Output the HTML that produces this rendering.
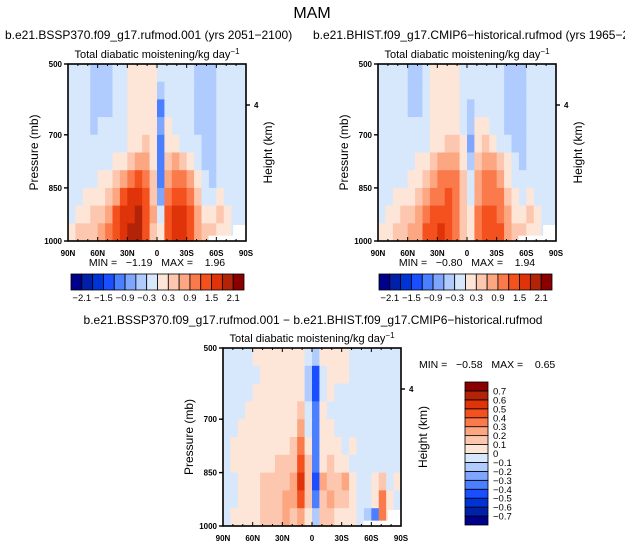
<!DOCTYPE html>
<html><head><meta charset="utf-8">
<style>
body{margin:0;background:#fff;}
svg{display:block;font-family:"Liberation Sans",sans-serif;}
</style></head>
<body>
<svg id="fig" width="625" height="547" viewBox="0 0 625 547" xmlns="http://www.w3.org/2000/svg">
<text x="312" y="18" font-size="16" text-anchor="middle">MAM</text>
<text x="5" y="39" font-size="12">b.e21.BSSP370.f09_g17.rufmod.001 (yrs 2051−2100)</text>
<text x="313" y="39" font-size="12">b.e21.BHIST.f09_g17.CMIP6−historical.rufmod (yrs 1965−2014)</text>
<text x="313" y="324" font-size="12" text-anchor="middle">b.e21.BSSP370.f09_g17.rufmod.001 − b.e21.BHIST.f09_g17.CMIP6−historical.rufmod</text>
</svg>
<script>
// ---- data ----
const latTicks = ["90N","60N","30N","0","30S","60S","90S"];
const presTicks = [500,700,850,1000];
const topLevels = [-2.1,-1.8,-1.5,-1.2,-0.9,-0.6,-0.3,0,0.3,0.6,0.9,1.2,1.5,1.8,2.1];
const topLabels = ["−2.1","−1.5","−0.9","−0.3","0.3","0.9","1.5","2.1"];
const diffLevels = [-0.7,-0.6,-0.5,-0.4,-0.3,-0.2,-0.1,0,0.1,0.2,0.3,0.4,0.5,0.6,0.7];
const diffLabels = ["−0.7","−0.6","−0.5","−0.4","−0.3","−0.2","−0.1","0","0.1","0.2","0.3","0.4","0.5","0.6","0.7"];
const colors = ["#00008a","#0020a8","#0033d6","#1a4fff","#4a7fff","#7fa6ff","#b0ccff","#d7e8fc","#fde6d7","#fcc7ae","#fca781","#fb7a4c","#f4511e","#df3309","#b32307","#8a0000"];
// rows: 500-550 ... 950-1000 mb; cols: 24 bands 90N -> 90S
const fieldA = [
[-0.1,-0.1,-0.1,-0.4,-0.4,-0.4,-0.1,-0.1,0.1,0.1,0.1,0.1,-0.1,-0.1,-0.1,-0.1,-0.1,-0.4,-0.4,-0.4,-0.1,-0.1,-0.1,-0.1],
[-0.1,-0.1,-0.1,-0.4,-0.4,-0.4,-0.1,-0.1,0.1,0.1,0.1,0.1,-0.4,-0.1,-0.1,-0.1,-0.1,-0.4,-0.4,-0.4,-0.1,-0.1,-0.1,-0.1],
[-0.1,-0.1,-0.1,-0.4,-0.4,-0.4,-0.1,-0.1,0.1,0.1,0.1,0.1,-1.0,-0.1,-0.1,-0.1,-0.1,-0.4,-0.4,-0.4,-0.1,-0.1,-0.1,-0.1],
[-0.1,-0.1,-0.1,-0.4,-0.1,-0.1,-0.1,-0.1,0.1,0.1,0.1,0.1,-0.7,0.1,-0.1,-0.1,-0.1,-0.4,-0.4,-0.4,-0.1,-0.1,-0.1,-0.1],
[-0.1,-0.1,-0.1,-0.1,-0.1,-0.1,-0.1,-0.1,0.1,0.1,0.4,0.1,-1.0,0.1,0.1,-0.1,-0.1,-0.1,-0.4,-0.4,-0.1,-0.1,-0.1,-0.1],
[-0.1,-0.1,-0.1,-0.1,-0.1,-0.1,0.1,0.1,0.4,0.7,0.7,0.1,-1.0,0.4,0.7,0.4,0.1,-0.1,-0.4,-0.4,-0.1,-0.1,-0.1,-0.1],
[-0.1,-0.1,-0.1,-0.1,0.1,0.1,0.4,0.7,1.0,1.3,1.0,0.4,-1.0,0.7,1.0,1.0,0.7,0.1,-0.1,-0.4,-0.1,-0.1,-0.1,-0.1],
[-0.1,-0.1,0.1,0.1,0.1,0.4,0.7,1.3,1.6,1.6,1.3,0.4,-0.7,1.0,1.3,1.3,1.0,0.4,-0.1,-0.1,0.1,-0.1,-0.1,-0.1],
[-0.1,0.1,0.1,0.4,0.4,0.7,1.3,1.6,1.6,1.9,1.3,0.7,-0.1,1.3,1.6,1.6,1.3,0.7,0.1,0.1,0.4,0.1,-0.1,-0.1],
[0.1,0.4,0.4,0.4,0.7,1.0,1.3,1.6,1.9,1.9,1.3,0.4,0.1,1.3,1.6,1.6,1.3,0.7,0.4,0.4,0.1,0.1,-0.1,-0.1]
];
const fieldB = [
[-0.1,-0.1,-0.1,-0.1,-0.4,-0.4,-0.1,0.1,0.1,0.1,0.1,-0.1,-0.1,-0.1,-0.1,-0.1,-0.1,-0.4,-0.4,-0.4,-0.1,-0.1,-0.1,-0.1],
[-0.1,-0.1,-0.1,-0.1,-0.4,-0.4,-0.1,0.1,0.1,0.1,0.1,-0.1,-0.1,-0.1,-0.1,-0.1,-0.1,-0.4,-0.4,-0.4,-0.1,-0.1,-0.1,-0.1],
[-0.1,-0.1,-0.1,-0.1,-0.4,-0.4,-0.1,0.1,0.1,0.1,0.1,-0.1,-0.4,-0.1,-0.1,-0.1,-0.1,-0.4,-0.4,-0.4,-0.1,-0.1,-0.1,-0.1],
[-0.1,-0.1,-0.1,-0.1,-0.1,-0.1,-0.1,0.1,0.1,0.1,0.1,-0.1,-0.4,0.1,0.1,-0.1,-0.1,-0.4,-0.4,-0.4,-0.1,-0.1,-0.1,-0.1],
[-0.1,-0.1,-0.1,-0.1,-0.1,-0.1,-0.1,0.1,0.1,0.4,0.4,0.1,-0.7,0.1,0.4,0.1,-0.1,-0.1,-0.4,-0.4,-0.1,-0.1,-0.1,-0.1],
[-0.1,-0.1,-0.1,-0.1,-0.1,0.1,0.1,0.4,0.7,0.7,0.7,0.1,-0.4,0.4,0.7,0.7,0.4,0.1,-0.1,-0.4,-0.1,-0.1,-0.1,-0.1],
[-0.1,-0.1,-0.1,-0.1,0.1,0.1,0.4,0.7,1.0,1.0,1.0,0.4,-0.1,0.7,1.0,1.0,0.7,0.1,-0.1,-0.1,-0.1,-0.1,-0.1,-0.1],
[-0.1,-0.1,0.1,0.1,0.1,0.4,0.7,1.0,1.0,1.3,1.0,0.4,-0.1,0.7,1.0,1.0,1.0,0.4,0.1,-0.1,0.1,-0.1,-0.1,-0.1],
[-0.1,0.1,0.1,0.4,0.4,0.7,1.0,1.3,1.3,1.3,1.0,0.4,0.1,1.0,1.3,1.3,1.0,0.7,0.1,0.1,0.4,0.1,-0.1,-0.1],
[0.1,0.1,0.4,0.4,0.7,0.7,1.3,1.3,1.6,1.3,1.0,0.4,0.1,1.0,1.3,1.3,1.3,0.7,0.4,0.4,0.1,0.1,-0.1,-0.1]
];
const fieldC = [
[-0.05,-0.05,-0.05,-0.05,0.05,0.05,0.05,0.05,0.05,0.05,0.05,-0.05,-0.15,0.05,0.05,0.05,0.05,-0.05,-0.05,-0.05,-0.05,-0.05,-0.05,-0.05],
[-0.05,-0.05,-0.05,-0.05,-0.05,0.05,0.05,0.05,0.05,0.05,0.05,-0.15,-0.45,-0.05,0.05,0.05,0.05,-0.05,-0.05,-0.05,-0.05,-0.05,-0.05,-0.05],
[-0.05,-0.05,-0.05,-0.05,0.05,0.05,0.05,0.05,0.05,0.05,0.05,-0.15,-0.45,-0.05,0.05,-0.05,-0.05,-0.05,-0.05,-0.05,-0.05,-0.05,-0.05,-0.05],
[-0.05,-0.05,-0.05,0.05,0.05,0.05,0.05,0.05,0.05,0.05,0.15,-0.05,-0.35,0.05,-0.05,-0.05,-0.05,-0.05,-0.05,-0.05,-0.05,-0.05,-0.05,-0.05],
[-0.05,-0.05,0.05,0.05,0.05,0.05,0.05,0.05,0.05,0.05,0.25,-0.05,-0.35,0.05,0.05,-0.05,-0.05,-0.05,-0.05,-0.05,-0.05,-0.05,-0.05,-0.05],
[-0.05,0.05,0.05,0.05,0.05,0.05,0.05,0.05,0.05,0.15,0.35,0.05,-0.35,0.05,0.05,0.05,-0.05,0.05,-0.05,-0.05,-0.05,-0.05,-0.05,-0.05],
[-0.05,0.05,0.05,0.05,0.05,0.05,0.05,0.15,0.15,0.15,0.45,0.15,-0.35,0.05,0.15,0.05,0.05,-0.05,-0.05,-0.05,-0.05,-0.05,-0.05,-0.05],
[-0.05,-0.05,0.05,0.05,0.05,0.15,0.15,0.15,0.15,0.25,0.55,0.15,-0.45,0.25,0.15,0.15,0.25,0.05,-0.05,-0.05,0.05,0.15,-0.05,0.05],
[-0.05,-0.05,0.05,0.05,0.05,0.15,0.15,0.15,0.25,0.25,0.45,0.15,-0.35,0.15,0.25,0.15,0.15,0.05,-0.05,-0.05,0.05,0.35,0.05,-0.05],
[-0.05,0.05,0.05,0.05,0.05,0.15,0.15,0.15,0.25,0.15,0.25,0.05,-0.15,0.15,0.15,0.05,0.05,0.05,-0.05,-0.15,-0.35,0.35,0.05,-0.05]
];
const minmaxA = ["−1.19","1.96"];
const minmaxB = ["−0.80","1.94"];
const minmaxC = ["−0.58","0.65"];

const NS = "http://www.w3.org/2000/svg";
const svg = document.getElementById("fig");
function mk(tag, attrs, parent){
  const e = document.createElementNS(NS, tag);
  for (const k in attrs) e.setAttribute(k, attrs[k]);
  (parent||svg).appendChild(e);
  return e;
}
function binIndex(v, levels){ let i=0; for (const l of levels) if (v >= l - 1e-9) i++; return i; }

function drawPanel(px, py, pw, ph, field, levels, name){
  const g = mk("g", {});
  
  
  const xScale = lat => px + (90 - lat) / 180 * pw;
  const yScale = p => py + (p - 500) / 500 * ph;
  const nc = field[0].length, nr = field.length;
  const dLat = 180 / nc, dP = 500 / nr;
  field.forEach((row, r) => {
    row.forEach((v, c) => {
      const lat0 = 90 - c * dLat, p0 = 500 + r * dP;
      const x0 = xScale(lat0), x1 = xScale(lat0 - dLat);
      const y0 = yScale(p0), y1 = yScale(p0 + dP);
      const cell = mk("rect", {x:x0, y:y0, width:x1-x0+0.6, height:y1-y0+0.6, fill:colors[binIndex(v, levels)]}, g);
      
      
    });
  });
  const m1 = mk("rect", {x:xScale(-52), y:yScale(985), width:xScale(-90)-xScale(-52), height:yScale(1000)-yScale(985), fill:"#fff"}, g);
  
  
  const m2 = mk("rect", {x:xScale(-77), y:yScale(955), width:xScale(-90)-xScale(-77), height:yScale(1000)-yScale(955), fill:"#fff"}, g);
  
  
  const fr = mk("rect", {x:px, y:py, width:pw, height:ph, fill:"none", stroke:"#000", "stroke-width":1.6}, g);
  
  
  for (let lat = 90; lat >= -90; lat -= 10){
    const x = xScale(lat), major = lat % 30 === 0, L = major ? 4 : 2;
    mk("line", {x1:x, y1:py+ph, x2:x, y2:py+ph-L, stroke:"#000", "stroke-width":1}, g);
    mk("line", {x1:x, y1:py, x2:x, y2:py+L, stroke:"#000", "stroke-width":1}, g);
  }
  latTicks.forEach((t, i) => {
    const lab = mk("text", {x:xScale(90 - i*30), y:py+ph+15, "font-size":8, "font-weight":"bold", "text-anchor":"middle"}, g);
    lab.textContent = t;
    
    
  });
  presTicks.forEach(p => {
    const y = yScale(p);
    mk("line", {x1:px, y1:y, x2:px-4, y2:y, stroke:"#000", "stroke-width":1.4}, g);
    const lab = mk("text", {x:px-6, y:y+3, "font-size":8, "font-weight":"bold", "text-anchor":"end"}, g);
    lab.textContent = p;
    
    
  });
  const hy = py + 41;
  mk("line", {x1:px+pw, y1:hy, x2:px+pw+4, y2:hy, stroke:"#000", "stroke-width":1.4}, g);
  const h4 = mk("text", {x:px+pw+8, y:hy+3, "font-size":8, "font-weight":"bold"}, g);
  h4.textContent = "4";
  
  
  const yt = mk("text", {x:0, y:0, "font-size":12, "text-anchor":"middle", transform:`translate(${px-30},${py+ph/2}) rotate(-90)`}, g);
  yt.textContent = "Pressure (mb)";
  
  
  const ht = mk("text", {x:0, y:0, "font-size":12, "text-anchor":"middle", transform:`translate(${px+pw+26},${py+ph/2}) rotate(-90)`}, g);
  ht.textContent = "Height (km)";
  
  
  const st = mk("text", {x:px+pw/2, y:py-6, "font-size":11, "text-anchor":"middle"}, g);
  st.innerHTML = 'Total diabatic moistening/kg day<tspan font-size="8" dy="-4">−1</tspan>';
  
  
}

function minmaxText(x, y, mm, anchor){
  const t = mk("text", {x:x, y:y, "font-size":10.5, "text-anchor":anchor});
  t.setAttribute("style","white-space:pre");
  t.textContent = "MIN =   " + mm[0] + "   MAX =    " + mm[1];
  
  
}

function hColorbar(x0, y0, w, h, name){
  const g = mk("g", {});
  
  
  const bw = w / colors.length;
  colors.forEach((c, i) => {
    const r = mk("rect", {x:x0+i*bw, y:y0, width:bw, height:h, fill:c, stroke:"#000", "stroke-width":0.8}, g);
    
    
  });
  topLabels.forEach((t, k) => {
    const lab = mk("text", {x:x0+(2*k+1)*bw, y:y0+h+11, "font-size":9.5, "text-anchor":"middle"}, g);
    lab.textContent = t;
    
    
  });
}

function vColorbar(x0, y0, w, h, name){
  const g = mk("g", {});
  
  
  const bh = h / colors.length, n = colors.length;
  colors.forEach((c, i) => {
    const r = mk("rect", {x:x0, y:y0+(n-1-i)*bh, width:w, height:bh, fill:c, stroke:"#000", "stroke-width":0.8}, g);
    
    
  });
  diffLabels.forEach((t, k) => {
    const lab = mk("text", {x:x0+w+5, y:y0+(n-1-k)*bh+3.5, "font-size":9.5}, g);
    lab.textContent = t;
    
    
  });
}

drawPanel(68, 64, 178, 177, fieldA, topLevels, "future-panel");
drawPanel(378, 64, 178, 177, fieldB, topLevels, "historical-panel");
drawPanel(223, 348, 178, 178, fieldC, diffLevels, "difference-panel");
minmaxText(157, 266, minmaxA, "middle");
minmaxText(467, 266, minmaxB, "middle");
minmaxText(419, 368, minmaxC, "start");
hColorbar(71, 274, 173, 16, "future-colorbar");
hColorbar(379, 274, 173, 16, "historical-colorbar");
vColorbar(465, 382, 23, 143, "difference-colorbar");
</script>
</body></html>
